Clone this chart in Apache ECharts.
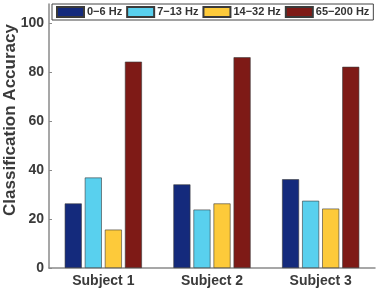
<!DOCTYPE html>
<html>
<head>
<meta charset="utf-8">
<script src="https://cdn.jsdelivr.net/npm/echarts@6/dist/echarts.min.js"></script>
<style>
  html, body { margin: 0; padding: 0; background: #fff; }
  #chart { width: 378px; height: 300px; }
</style>
</head>
<body>
<div id="chart"></div>
<script>
// data
const subjects = ['Subject 1', 'Subject 2', 'Subject 3'];
const bandNames = ['0\u22126 Hz', '7\u221213 Hz', '14\u221232 Hz', '65\u2212200 Hz'];
const band0to6 = [26.4, 34.2, 36.3];
const band7to13 = [37.0, 23.9, 27.5];
const band14to32 = [15.7, 26.4, 24.3];
const band65to200 = [84.4, 86.2, 82.3];
const yTicks = [0, 20, 40, 60, 80, 100];

const colors = ['#142a7c', '#59d0ee', '#fdca3a', '#7e1a16'];
const seriesData = [band0to6, band7to13, band14to32, band65to200];

const chart = echarts.init(document.getElementById('chart'));

let series = [];
for (let i = 0; i < bandNames.length; i++) {
    series.push({
        name: bandNames[i],
        type: 'bar',
        data: seriesData[i],
        barWidth: 17,
        barGap: '18%',
        itemStyle: {
            color: colors[i],
            borderColor: '#3a3a3a',
            borderWidth: 0.6
        }
    });
}

chart.setOption({
    animation: false,
    textStyle: { fontFamily: 'Liberation Sans, Arial, sans-serif' },
    legend: {
        data: bandNames,
        left: 52,
        top: 4,
        width: 320,
        padding: [2, 4, 2, 4],
        itemGap: 4,
        itemWidth: 27,
        itemHeight: 10,
        icon: 'rect',
        borderColor: '#444',
        borderWidth: 1,
        backgroundColor: '#fff',
        textStyle: { fontSize: 11, fontWeight: 'bold', color: '#333', padding: [0, 0, 0, -2] }
    },
    grid: {
        left: 49,
        right: 3,
        top: 4,
        bottom: 32,
        containLabel: false,
        outerBoundsMode: 'none'
    },
    xAxis: {
        type: 'category',
        data: subjects,
        axisLine: { lineStyle: { color: '#8a8a8a', width: 1.5 } },
        axisTick: { show: false },
        axisLabel: { fontSize: 14, fontWeight: 'bold', color: '#3a3a3a', margin: 6 }
    },
    yAxis: {
        type: 'value',
        min: 0,
        max: 108,
        interval: 20,
        name: 'Classification Accuracy',
        nameLocation: 'middle',
        nameGap: 30,
        nameMoveOverlap: false,
        nameTextStyle: { fontSize: 17, fontWeight: 'bold', color: '#3a3a3a', padding: [0, 0, 0, 32] },
        axisLine: { show: true, lineStyle: { color: '#8a8a8a', width: 1.5 } },
        axisTick: { show: true, inside: true, length: 3, lineStyle: { color: '#8a8a8a' } },
        splitLine: { show: false },
        axisLabel: {
            fontSize: 14, fontWeight: 'bold', color: '#3a3a3a', margin: 5,
            showMaxLabel: false,
            formatter: function (v) { return yTicks.indexOf(v) >= 0 ? String(v) : ''; }
        }
    },
    series: series
});
</script>
</body>
</html>
